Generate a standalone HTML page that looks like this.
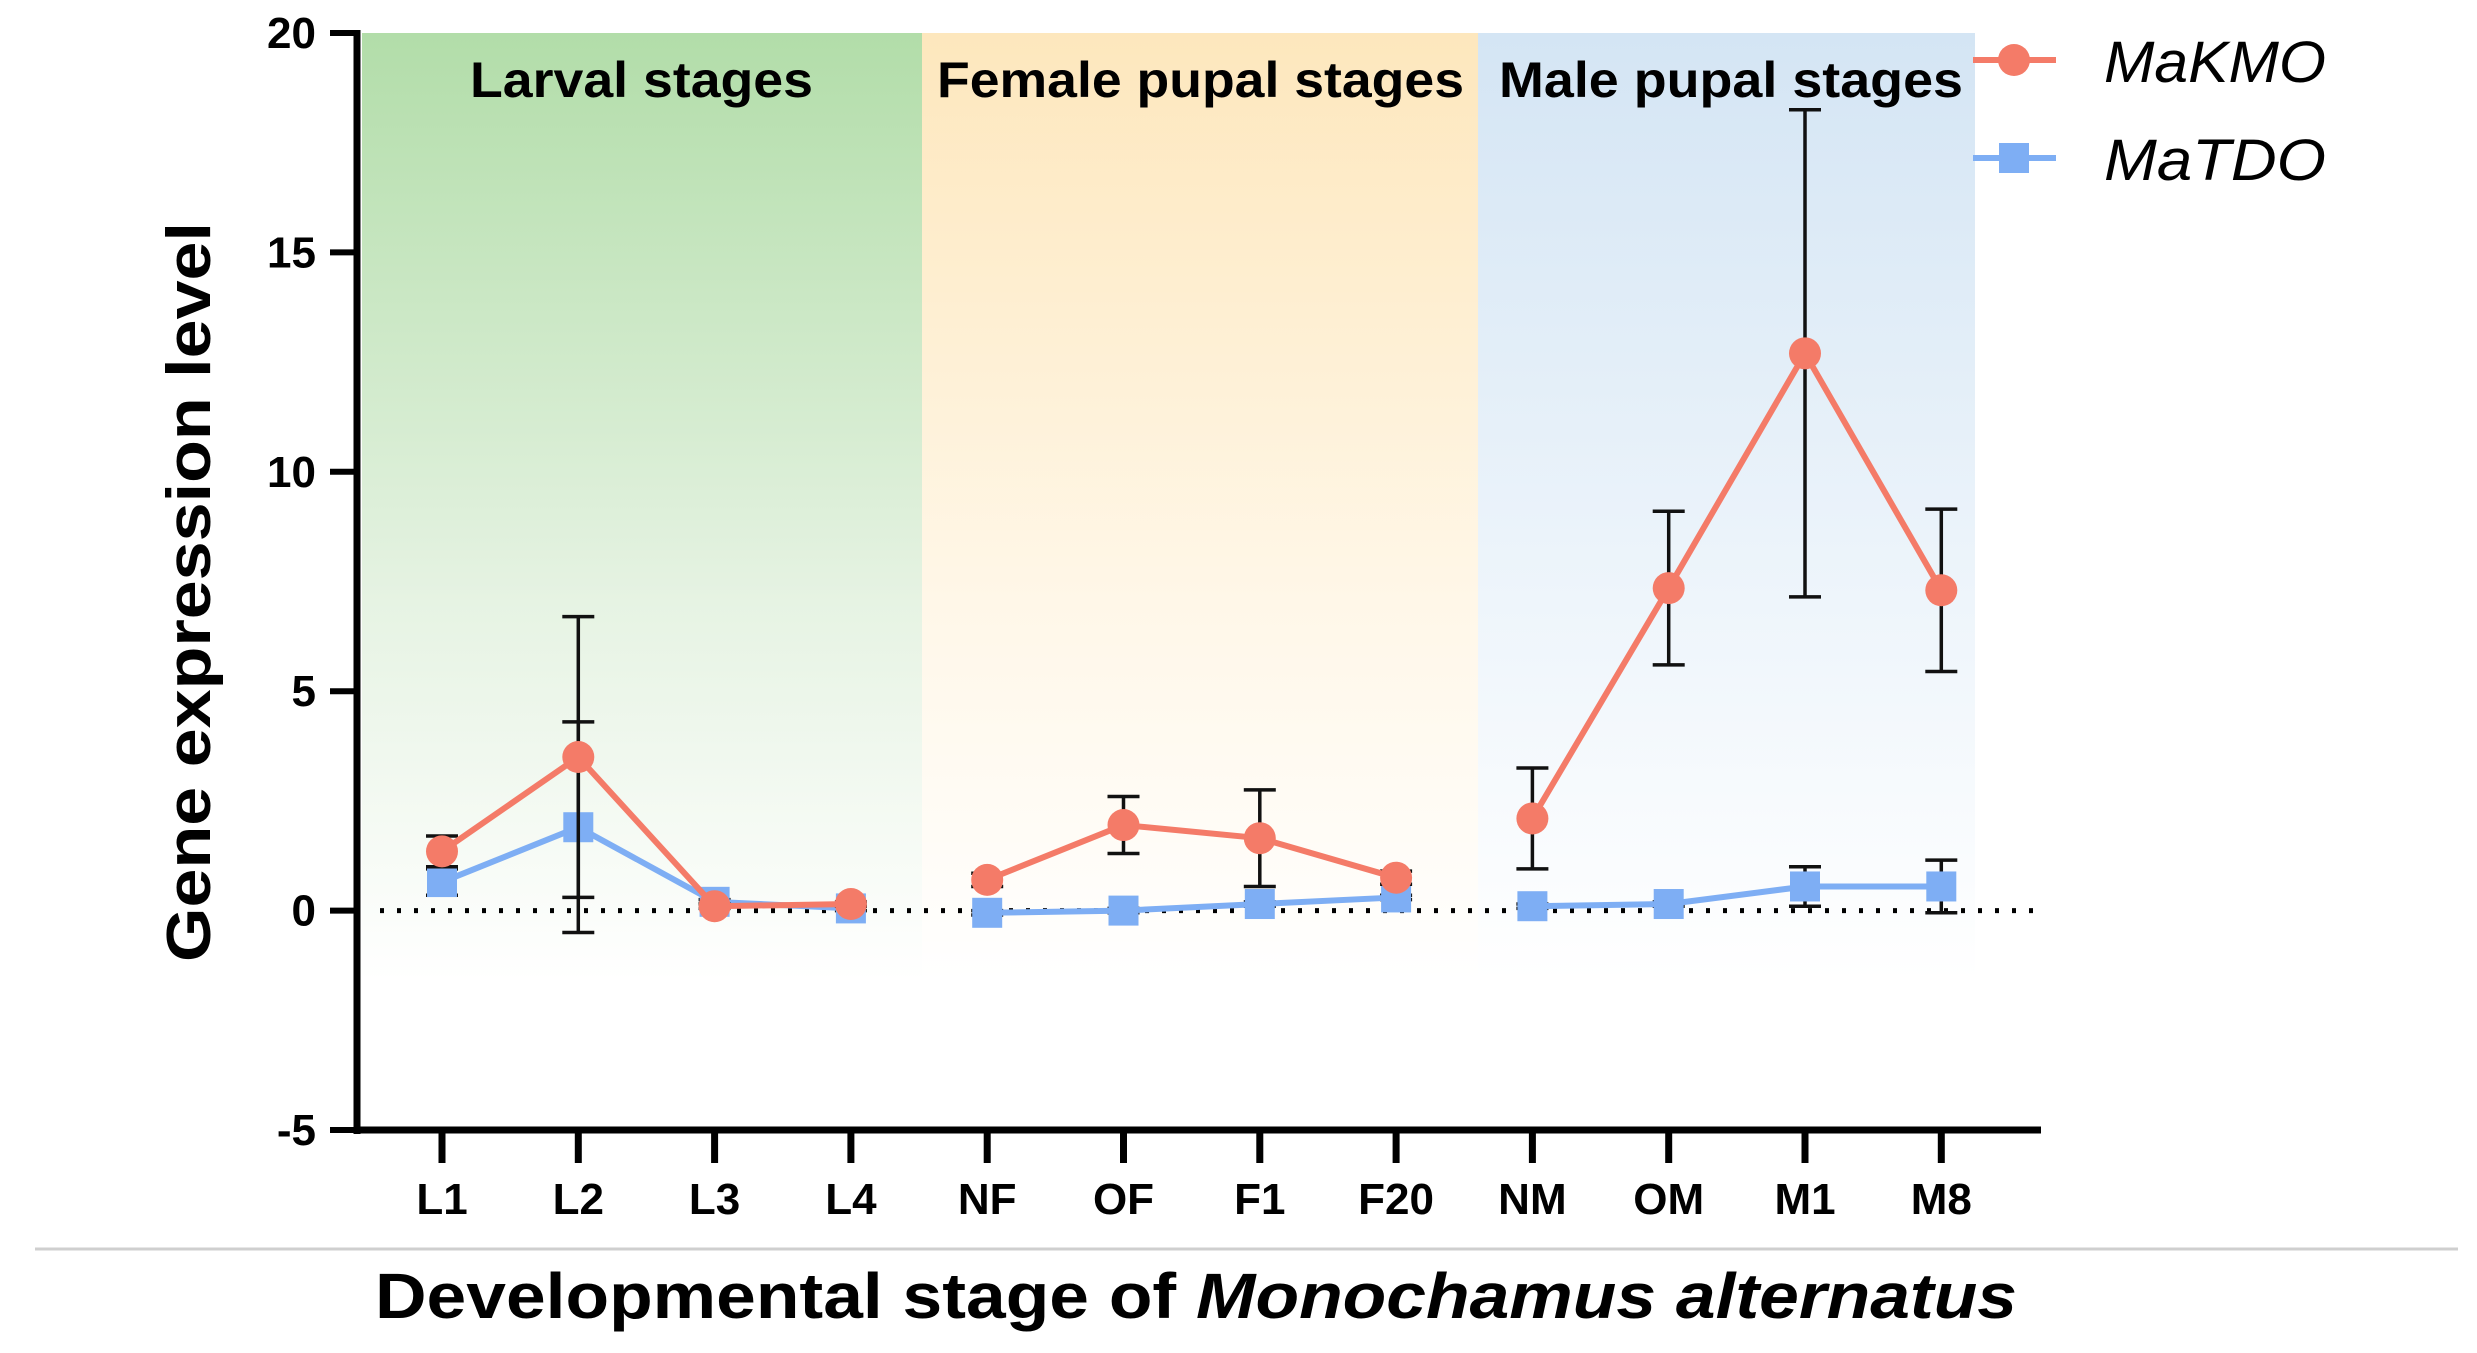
<!DOCTYPE html>
<html><head><meta charset="utf-8"><style>
html,body{margin:0;padding:0;background:#fff}
svg{display:block}
text{font-family:"Liberation Sans",Arial,sans-serif}
</style></head><body>
<svg id="chart" width="2477" height="1353" viewBox="0 0 2477 1353" xmlns="http://www.w3.org/2000/svg">
<defs>
<linearGradient id="gG" x1="0" y1="0" x2="0" y2="1"><stop offset="0" stop-color="#b2dda9"/><stop offset="0.6" stop-color="#e6f3e3"/><stop offset="1" stop-color="#ffffff"/></linearGradient>
<linearGradient id="gO" x1="0" y1="0" x2="0" y2="1"><stop offset="0" stop-color="#fde7bd"/><stop offset="0.6" stop-color="#fff7e8"/><stop offset="1" stop-color="#ffffff"/></linearGradient>
<linearGradient id="gB" x1="0" y1="0" x2="0" y2="1"><stop offset="0" stop-color="#d4e5f4"/><stop offset="0.6" stop-color="#eef5fb"/><stop offset="1" stop-color="#ffffff"/></linearGradient>
</defs>
<g id="bg"></g>
<g id="axes"></g>
<g id="marks"></g>
</svg>
<script>
const categories=["L1","L2","L3","L4","NF","OF","F1","F20","NM","OM","M1","M8"];
const kmoValues=[1.35,3.5,0.1,0.15,0.7,1.95,1.65,0.75,2.1,7.35,12.7,7.3];
const kmoErr=[0.35,3.2,0.05,0.05,0.15,0.65,1.1,0.15,1.15,1.75,5.55,1.85];
const tdoValues=[0.65,1.9,0.2,0.05,-0.05,0.0,0.15,0.3,0.1,0.15,0.55,0.55];
const tdoErr=[0.3,2.4,0.05,0.05,0.05,0.05,0.05,0.05,0.05,0.05,0.45,0.6];
const yTicks=[-5,0,5,10,15,20];
const groupLabels=["Larval stages","Female pupal stages","Male pupal stages"];
const groupSpans=[[0,3],[4,7],[8,11]];

const NS="http://www.w3.org/2000/svg";
const X0=442, DX=136.3;
const yTop=33, yBot=1130, yMin=-5, yMax=20;
function xs(i){return X0+i*DX;}
function ys(v){return yBot-(v-yMin)/(yMax-yMin)*(yBot-yTop);}
function mk(tag,attrs,parent){const e=document.createElementNS(NS,tag);for(const k in attrs)e.setAttribute(k,attrs[k]);parent.appendChild(e);return e;}
const bg=document.getElementById('bg'),axes=document.getElementById('axes'),marks=document.getElementById('marks');

const fills=["url(#gG)","url(#gO)","url(#gB)"];
const bounds=[[362,922],[922,1478],[1478,1975]];
const labelX=[[470,813],[937,1464],[1499,1963]];
groupSpans.forEach((s,g)=>{
  const r=mk('rect',{x:bounds[g][0],y:yTop,width:bounds[g][1]-bounds[g][0],height:ys(-1.6)-yTop,fill:fills[g]},bg);
  
  
  const t=mk('text',{x:labelX[g][0],y:97,'font-size':50,'font-weight':'bold',fill:'#000',textLength:labelX[g][1]-labelX[g][0],lengthAdjust:'spacingAndGlyphs'},bg);
  t.textContent=groupLabels[g];
  
  
});

const zl=mk('line',{x1:380,x2:2040,y1:ys(0),y2:ys(0),stroke:'#000','stroke-width':5,'stroke-dasharray':'4 13'},axes);



const ya=mk('line',{x1:357,x2:357,y1:yTop-3,y2:yBot+4,stroke:'#000','stroke-width':7},axes);


const xa=mk('line',{x1:354,x2:2041,y1:yBot,y2:yBot,stroke:'#000','stroke-width':7},axes);


yTicks.forEach(v=>{
  const l=mk('line',{x1:330,x2:357,y1:ys(v),y2:ys(v),stroke:'#000','stroke-width':6},axes);
  
  
  const t=mk('text',{x:316,y:ys(v)+15,'text-anchor':'end','font-size':44,'font-weight':'bold'},axes);
  t.textContent=String(v);
  
  
});
categories.forEach((c,i)=>{
  const l=mk('line',{x1:xs(i),x2:xs(i),y1:yBot,y2:1163,stroke:'#000','stroke-width':7},axes);
  
  
  const t=mk('text',{x:xs(i),y:1214,'text-anchor':'middle','font-size':44,'font-weight':'bold'},axes);
  t.textContent=c;
  
  
});
const yt=mk('text',{x:0,y:0,transform:'translate(210,592) rotate(-90)','text-anchor':'middle','font-size':62,'font-weight':'bold',textLength:740,lengthAdjust:'spacingAndGlyphs'},axes);
yt.textContent='Gene expression level';


const sep=mk('line',{x1:35,x2:2458,y1:1249,y2:1249,stroke:'#cfcfcf','stroke-width':3},axes);


const xt=mk('text',{x:375,y:1318,'font-size':64,'font-weight':'bold',textLength:1642,lengthAdjust:'spacingAndGlyphs'},axes);
xt.innerHTML='Developmental stage of <tspan font-style="italic">Monochamus alternatus</tspan>';



function series(vals,errs,color,shape,name){
  vals.forEach((v,i)=>{
    const x=xs(i),t=ys(v+errs[i]),b=ys(v-errs[i]);
    const g=mk('g',{stroke:'#111','stroke-width':3.5},marks);
    
    
    mk('line',{x1:x,x2:x,y1:t,y2:b},g);
    mk('line',{x1:x-16,x2:x+16,y1:t,y2:t},g);
    mk('line',{x1:x-16,x2:x+16,y1:b,y2:b},g);
  });
  [[0,4],[4,8],[8,12]].forEach(([a,b])=>{
    const pts=[];for(let i=a;i<b;i++)pts.push(xs(i)+','+ys(vals[i]));
    const p=mk('polyline',{points:pts.join(' '),fill:'none',stroke:color,'stroke-width':6},marks);
    
    
  });
  vals.forEach((v,i)=>{
    let e;
    if(shape==='circle') e=mk('circle',{cx:xs(i),cy:ys(v),r:16,fill:color},marks);
    else e=mk('rect',{x:xs(i)-15,y:ys(v)-15,width:30,height:30,fill:color},marks);
    
    
  });
}
series(tdoValues,tdoErr,'#7eaef4','square','matdo');
series(kmoValues,kmoErr,'#f47b68','circle','makmo');

[['MaKMO','#f47b68','circle',60],['MaTDO','#7eaef4','square',158]].forEach(([lab,col,sh,y])=>{
  const g=mk('g',{},axes);
  
  
  mk('line',{x1:1973,x2:2056,y1:y,y2:y,stroke:col,'stroke-width':6},g);
  if(sh==='circle') mk('circle',{cx:2014,cy:y,r:16,fill:col},g);
  else mk('rect',{x:1999,y:y-15,width:30,height:30,fill:col},g);
  const t=mk('text',{x:2104,y:y+22,'font-size':58,'font-style':'italic',textLength:222,lengthAdjust:'spacingAndGlyphs'},g);
  t.textContent=lab;
});
</script>
</body></html>
